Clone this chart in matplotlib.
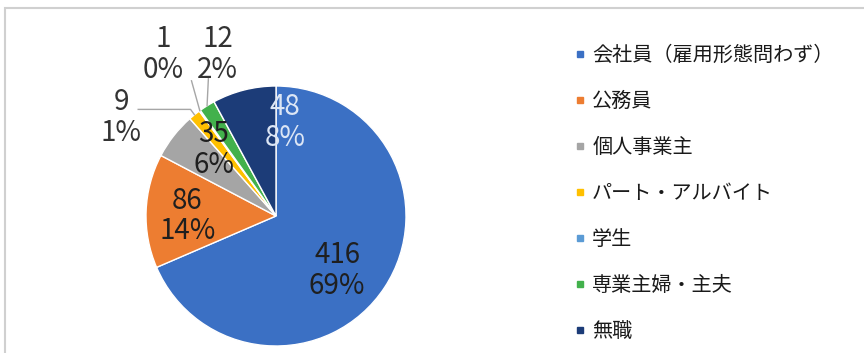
import matplotlib
matplotlib.use("Agg")
import matplotlib.pyplot as plt
from matplotlib.lines import Line2D
from matplotlib.patches import Rectangle
import numpy as np

plt.rcParams['font.family'] = ['Noto Sans CJK JP', 'DejaVu Sans']

categories = ['会社員（雇用形態問わず）', '公務員', '個人事業主', 'パート・アルバイト',
              '学生', '専業主婦・主夫', '無職']
counts = [416, 86, 35, 9, 1, 12, 48]
colors = ['#3B70C4', '#ED7D31', '#A5A5A5', '#FFC000', '#5B9BD5', '#42B14C', '#1C3C78']

# label placement (pie units, radius = 1)
label_pos = [(0.47, -0.42), (-0.68, 0.0), (-0.48, 0.51), (-1.19, 0.76),
             (-0.87, 1.24), (-0.45, 1.24), (0.07, 0.72)]
label_col = ['#1f1f1f', '#1f1f1f', '#1f1f1f', '#333333', '#333333', '#333333', '#DCE6F5']
# leader line start points for outside labels
leader_start = {3: (-1.06, 0.82), 4: (-0.65, 1.04), 5: (-0.52, 1.06)}

W, H = 864, 353
cx, cy, rpx = 276, 216, 130

fig = plt.figure(figsize=(W / 100, H / 100), dpi=100)
ax = fig.add_axes([0, 0, 1, 1])

wedges, _ = ax.pie(counts, colors=colors, startangle=90, counterclock=False,
                   wedgeprops=dict(edgecolor='white', linewidth=1))
ax.set_xlim(-cx / rpx, (W - cx) / rpx)
ax.set_ylim(-(H - cy) / rpx, cy / rpx)
ax.set_aspect('auto')
ax.axis('off')

total = sum(counts)
for i, (w, n) in enumerate(zip(wedges, counts)):
    pct = round(100 * n / total)
    x, y = label_pos[i]
    ax.text(x, y, f'{n}\n{pct}%', ha='center', va='center', fontsize=20,
            color=label_col[i], linespacing=1.03)
    if i in leader_start:
        th = np.deg2rad((w.theta1 + w.theta2) / 2)
        ex, ey = np.cos(th), np.sin(th)
        sx, sy = leader_start[i]
        if i == 3:
            ax.plot([sx, ex - 0.03, ex], [sy, sy, ey], color='#A6A6A6', lw=1)
        else:
            ax.plot([sx, ex], [sy, ey], color='#A6A6A6', lw=1)

# chart frame
fig.patches.append(Rectangle((5 / W, -0.1), 1.2, (H - 8) / H + 0.1,
                             transform=fig.transFigure, fill=False,
                             edgecolor='#D0D0D0', lw=1.5))

handles = [Line2D([], [], marker='s', linestyle='none', markersize=5,
                  markerfacecolor=c, markeredgecolor=c) for c in colors]
fig.legend(handles, categories, loc='upper left', bbox_to_anchor=(566 / W, 1 - 37 / H),
           frameon=False, fontsize=14.5, handlelength=0.6, handletextpad=0.3,
           labelspacing=1.245, borderaxespad=0, labelcolor='#1a1a1a')

fig.savefig('out.png', dpi=100)
